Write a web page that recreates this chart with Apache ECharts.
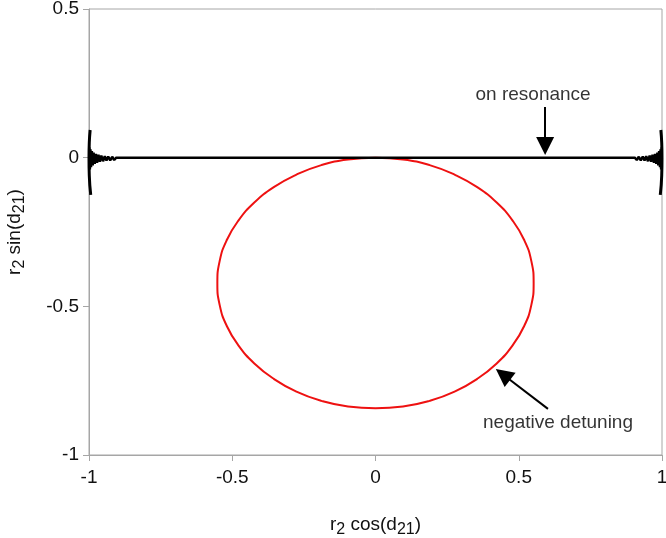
<!DOCTYPE html>
<html>
<head>
<meta charset="utf-8">
<script src="https://cdn.jsdelivr.net/npm/echarts@6/dist/echarts.min.js"></script>
<style>
  html, body { margin: 0; padding: 0; background: #fff; }
  #chart { width: 666px; height: 538px; }
</style>
</head>
<body>
<div id="chart"></div>
<script>
// on resonance trace: ringing at both ends, flat in the middle
const blackX = [-0.999, -0.997, -0.995, -0.993, -0.990, -0.987, -0.984, -0.980, -0.976, -0.972,
  -0.967, -0.962, -0.957, -0.951, -0.945, -0.939, -0.933, -0.926, -0.919, -0.912, -0.905,
  0.905, 0.912, 0.919, 0.926, 0.933, 0.939, 0.945, 0.951, 0.957, 0.962,
  0.967, 0.972, 0.976, 0.980, 0.984, 0.987, 0.990, 0.993, 0.995, 0.997, 0.999];
const blackY = [0.035, -0.040, 0.028, -0.032, 0.022, -0.026, 0.017, -0.021, 0.013, -0.017,
  0.010, -0.014, 0.007, -0.012, 0.005, -0.010, 0.004, -0.009, 0.003, -0.008, 0,
  0, -0.008, 0.003, -0.009, 0.004, -0.010, 0.005, -0.012, 0.007, -0.014,
  0.010, -0.017, 0.013, -0.021, 0.017, -0.026, 0.022, -0.032, 0.028, -0.040, 0.035];
// vertical strokes at the two ends
const edgeY = [0.093, 0.05, 0, -0.06, -0.125];
const edgeLeftX = [-0.996, -0.999, -1.0, -0.999, -0.994];
const edgeRightX = [0.996, 0.999, 1.0, 0.999, 0.994];

// negative detuning trace (closed loop, clockwise from the top)
const redX = [0, 0.096, 0.189, 0.276, 0.355, 0.423, 0.478, 0.519, 0.544, 0.552,
  0.544, 0.519, 0.478, 0.423, 0.355, 0.276, 0.189, 0.096,
  0, -0.096, -0.189, -0.276, -0.355, -0.423, -0.478, -0.519, -0.544, -0.552,
  -0.544, -0.519, -0.478, -0.423, -0.355, -0.276, -0.189, -0.096, 0];
const redY = [0, -0.006, -0.025, -0.057, -0.099, -0.151, -0.211, -0.277, -0.348, -0.422,
  -0.495, -0.566, -0.632, -0.692, -0.744, -0.787, -0.818, -0.837,
  -0.843, -0.837, -0.818, -0.787, -0.744, -0.692, -0.632, -0.566, -0.495, -0.422,
  -0.348, -0.277, -0.211, -0.151, -0.099, -0.057, -0.025, -0.006, 0];

// annotations: label text, label position, arrow tail, arrow head centre
const noteText = ['on resonance', 'negative detuning'];
const notePos = [[0.55, 0.211], [0.637, -0.892]];
const arrowFrom = [[0.592, 0.170], [0.602, -0.845]];
const arrowTo = [[0.592, 0.039], [0.445, -0.729]];

const xTicks = [-1, -0.5, 0, 0.5, 1];
const yTicks = [-1, -0.5, 0, 0.5];

const pairs = (xs, ys) => xs.map((x, i) => [x, ys[i]]);

const chart = echarts.init(document.getElementById('chart'));

const axisColor = '#a6a6a6';
const font = 'Liberation Sans, Arial, sans-serif';
const nameRich = {
  a: { fontSize: 19, color: '#111', fontFamily: font, lineHeight: 24 },
  s: { fontSize: 16, color: '#111', fontFamily: font, lineHeight: 24, padding: [9, 0, 0, 0] }
};

chart.setOption({
  animation: false,
  grid: {
    left: 89, right: 4, top: 9, bottom: 83,
    outerBoundsMode: 'none', containLabel: false,
    show: true, borderColor: axisColor, borderWidth: 1
  },
  xAxis: {
    type: 'value',
    min: xTicks[0], max: xTicks[xTicks.length - 1], interval: 0.5,
    name: '{a|r}{s|2}{a| cos(d}{s|21}{a|)}',
    nameLocation: 'middle', nameGap: 58,
    nameTextStyle: { rich: nameRich },
    axisLine: { onZero: false, lineStyle: { color: axisColor } },
    axisTick: { length: 6, lineStyle: { color: axisColor } },
    axisLabel: { fontSize: 19, color: '#111', fontFamily: font, margin: 13 },
    splitLine: { show: false }
  },
  yAxis: {
    type: 'value',
    min: yTicks[0], max: yTicks[yTicks.length - 1], interval: 0.5,
    name: '{a|r}{s|2}{a| sin(d}{s|21}{a|)}',
    nameLocation: 'middle', nameGap: 62, nameRotate: 90,
    nameTextStyle: { rich: nameRich },
    axisLine: { onZero: false, lineStyle: { color: axisColor } },
    axisTick: { length: 6, lineStyle: { color: axisColor } },
    axisLabel: { fontSize: 19, color: '#111', fontFamily: font, margin: 10 },
    splitLine: { show: false }
  },
  series: [
    {
      type: 'line', data: pairs(redX, redY), smooth: true, showSymbol: false,
      lineStyle: { color: '#ee1111', width: 2 }
    },
    {
      type: 'line', data: pairs(blackX, blackY), showSymbol: false, clip: false,
      lineStyle: { color: '#000', width: 2.5 }
    },
    {
      type: 'line', data: pairs(edgeLeftX, edgeY), smooth: true, showSymbol: false, clip: false,
      lineStyle: { color: '#000', width: 3 }
    },
    {
      type: 'line', data: pairs(edgeRightX, edgeY), smooth: true, showSymbol: false, clip: false,
      lineStyle: { color: '#000', width: 3 }
    },
    {
      type: 'scatter', symbolSize: 0, silent: true,
      data: notePos.map((p, i) => ({ value: p, label: { formatter: noteText[i] } })),
      label: { show: true, position: 'inside', fontSize: 19, color: '#000', fontFamily: font }
    },
    {
      type: 'lines', coordinateSystem: 'cartesian2d', silent: true,
      symbol: ['none', 'triangle'], symbolSize: 18,
      lineStyle: { color: '#000', width: 2, opacity: 1 },
      data: arrowFrom.map((p, i) => ({ coords: [p, arrowTo[i]] }))
    }
  ]
});
</script>
</body>
</html>
